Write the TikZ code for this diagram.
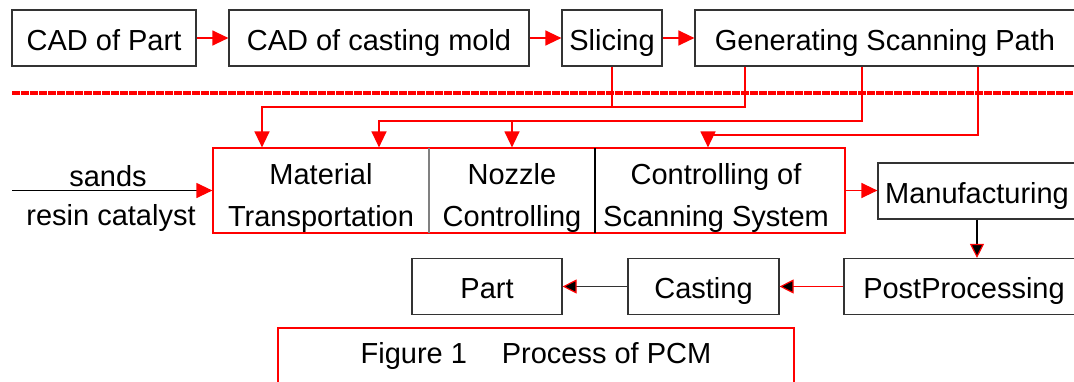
\documentclass[tikz,border=0pt]{standalone}
\usepackage{fontspec}
\setmainfont{Liberation Sans}
\usetikzlibrary{arrows.meta, positioning}

\begin{document}
\begin{tikzpicture}[x=1pt,y=-1pt,
  box/.style={draw=black!80, line width=1.2pt, minimum height=56pt, inner sep=0pt,
    text height=24pt, text depth=0pt, font=\fontsize{29}{42}\selectfont},
  txt/.style={inner sep=0pt, align=center, font=\fontsize{29}{42}\selectfont},
  redline/.style={draw=red, line width=1.3pt},
  redarr/.style={redline, -{Triangle[length=16pt,width=15pt]}},
  bkarr/.style={line width=1.2pt, -{Triangle[length=14pt,width=14pt,color=red,fill=black]}}]
\useasboundingbox (0,0) rectangle (1074,381);
\clip (0,0) rectangle (1074,381);

% first row
\node[box, minimum width=184pt] (cadpart) at (104,38) {CAD of Part};
\node[box, minimum width=300pt] (cadmold) at (379,38) {CAD of casting mold};
\node[box, minimum width=100pt] (slicing) at (612,38) {Slicing};
\node[box, minimum width=380pt] (genpath) at (885,38) {Generating Scanning Path};

\draw[redarr] (cadpart) -- (cadmold);
\draw[redarr] (cadmold) -- (slicing);
\draw[redarr] (slicing) -- (genpath);

\draw[red, line width=4pt, dash pattern=on 8pt off 1pt] (12,93) -- (1074,93);%separation

% control box
\node[draw=red, line width=1.2pt, minimum width=632pt, minimum height=85pt] (ctrl) at (529,190.5) {};
\draw[black!50, line width=1.2pt] (429,148) -- (429,233);
\draw[black, line width=1.2pt] (595,148) -- (595,233);
\node[txt] (matl) at (321,198) {Material\\Transportation};
\node[txt] (nozz) at (512,198) {Nozzle\\Controlling};
\node[txt] (scan) at (716,198) {Controlling of\\Scanning System};

\coordinate (r1) at (262,107);
\coordinate (r2) at (379,121);
\coordinate (r3) at (512,121);
\coordinate (r4) at (708,135);
\draw[redline] (slicing.south) -- (slicing.south |- r1);
\draw[redarr] ([xshift=-140pt]genpath.south) |- (r1) -- (r1 |- ctrl.north);
\draw[redarr] ([xshift=-23pt]genpath.south) |- (r2) -- (r2 |- ctrl.north);
\draw[redarr] (r3) -- (r3 |- ctrl.north);
\draw[redarr] ([xshift=93pt]genpath.south) |- (r4) -- (r4 |- ctrl.north);

% input
\coordinate (src) at (12,190.5);
\node[txt] (sands) at (108,176) {sands};
\node[txt] (resin) at (111,218) {resin catalyst};
\draw[line width=1.2pt, -{Triangle[length=16pt,width=15pt,color=red]}] (src) -- (src -| ctrl.west);

% output
\node[box, minimum width=198pt] (manuf) at (977,191) {Manufacturing};
\node[box, minimum width=240pt] (post) at (964,286.5) {PostProcessing};
\node[box, minimum width=151pt] (casting) at (703.5,286.5) {Casting};
\node[box, minimum width=150pt] (part) at (487,286.5) {Part};

\draw[redarr] (ctrl.east) -- (ctrl.east -| manuf.west);
\draw[bkarr] (manuf.south) -- (manuf.south |- post.north);
\draw[bkarr, draw=red] (post) -- (casting);
\draw[bkarr, black!80] (casting) -- (part);

\node[draw=red, line width=2pt, minimum width=516pt, minimum height=56pt, txt] (caption) at (536,356)
  {Figure 1\hspace{1.2em}Process of PCM};
\end{tikzpicture}
\end{document}
